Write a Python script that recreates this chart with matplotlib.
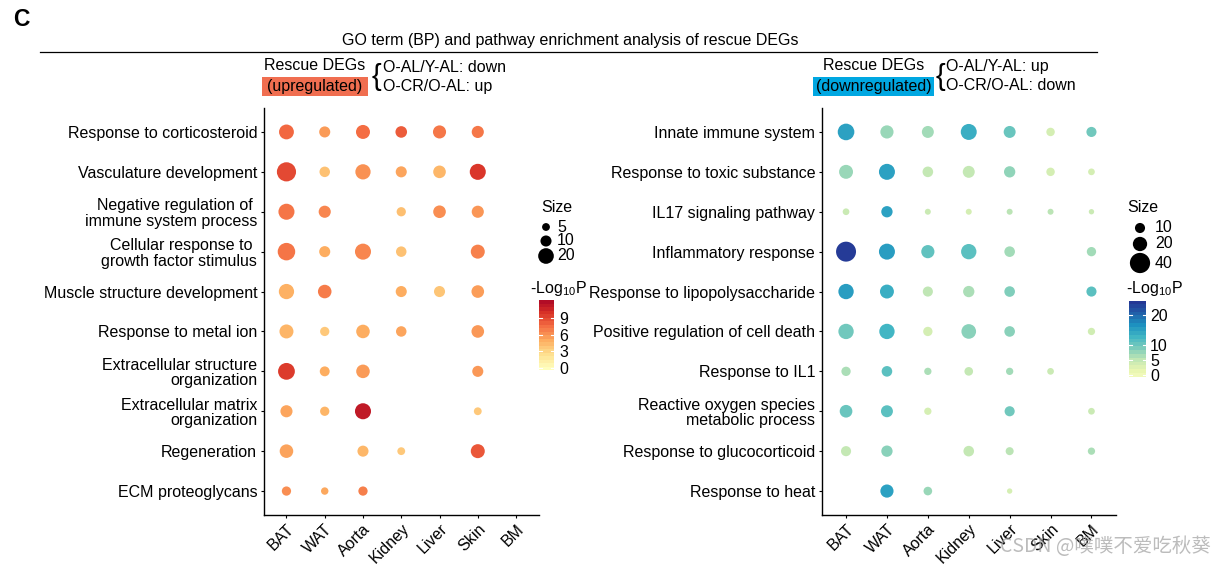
import numpy as np
import matplotlib
matplotlib.use('Agg')
import matplotlib.pyplot as plt
from matplotlib.colors import LinearSegmentedColormap, Normalize
from matplotlib.patches import Rectangle

plt.rcParams['font.family'] = ['Liberation Sans', 'DejaVu Sans']
plt.rcParams['mathtext.fontset'] = 'custom'
plt.rcParams['mathtext.rm'] = 'Liberation Sans'
plt.rcParams['mathtext.it'] = 'Liberation Sans:italic'

nan = np.nan
tissues = ['BAT', 'WAT', 'Aorta', 'Kidney', 'Liver', 'Skin', 'BM']

# upregulated rescue DEGs
up_terms = ['Response to corticosteroid', 'Vasculature development',
            'Negative regulation of \nimmune system process',
            'Cellular response to \ngrowth factor stimulus',
            'Muscle structure development', 'Response to metal ion',
            'Extracellular structure\norganization',
            'Extracellular matrix\norganization',
            'Regeneration', 'ECM proteoglycans']
up_size = [[18, 10, 16, 11, 14, 12, nan],
           [30, 9, 19, 10, 13, 21, nan],
           [21, 12, nan, 7, 13, 12, nan],
           [25, 10, 21, 9, nan, 16, nan],
           [19, 15, nan, 10, 10, 13, nan],
           [16, 7, 15, 9, nan, 13, nan],
           [23, 8, 15, nan, nan, 10, nan],
           [12, 7, 21, nan, nan, 5, nan],
           [15, nan, 10, 5, nan, 16, nan],
           [7, 4.5, 7, nan, nan, nan, nan]]
up_logp = [[7.8, 5.7, 7.6, 8.3, 7.2, 7.2, nan],
           [9.2, 4.0, 6.2, 5.3, 4.5, 10.0, nan],
           [7.3, 6.6, nan, 4.1, 6.3, 6.0, nan],
           [7.3, 5.0, 6.6, 4.0, nan, 6.8, nan],
           [4.8, 7.0, nan, 5.0, 3.8, 5.6, nan],
           [4.6, 3.6, 5.0, 5.3, nan, 5.9, nan],
           [9.8, 5.0, 5.8, nan, nan, 5.9, nan],
           [5.3, 4.6, 11.5, nan, nan, 3.6, nan],
           [5.4, nan, 4.5, 3.6, nan, 8.6, nan],
           [6.3, 5.2, 6.9, nan, nan, nan, nan]]

# downregulated rescue DEGs
down_terms = ['Innate immune system', 'Response to toxic substance',
              'IL17 signaling pathway', 'Inflammatory response',
              'Response to lipopolysaccharide',
              'Positive regulation of cell death', 'Response to IL1',
              'Reactive oxygen species\nmetabolic process',
              'Response to glucocorticoid', 'Response to heat']
down_size = [[27, 17, 14, 25, 14, 7, 10],
             [19, 25, 11, 14, 12.5, 7, 4.4],
             [4.4, 12.5, 3.5, 3.5, 3.5, 3.5, 2.8],
             [39, 25, 17, 23, 11, nan, 8.5],
             [23, 19, 10, 12.5, 11, nan, 10],
             [23, 23, 8.5, 21, 11, nan, 5.2],
             [8.5, 11, 5.2, 7.3, 5.2, 4.4, nan],
             [15.7, 14, 5.2, nan, 10, nan, 4.4],
             [10, 12.5, nan, 11, 6.3, nan, 5.2],
             [nan, 17, 7.3, nan, 2.8, nan, nan]]
down_logp = [[15, 7, 6.5, 13.5, 10, 3, 9.5],
             [7, 15, 4.5, 4.5, 7.5, 3, 3],
             [4, 15, 4, 3, 5, 5, 4],
             [24.5, 15.5, 10.5, 11, 6.5, nan, 6.5],
             [15.5, 13.5, 4.8, 6, 8.5, nan, 11],
             [9.5, 12.5, 3, 8, 8, nan, 3.3],
             [6, 11, 6, 4.5, 6.5, 4, nan],
             [10, 11, 2.8, nan, 9.5, nan, 4],
             [4.5, 8, nan, 4.5, 5, nan, 6],
             [nan, 15, 7, nan, 2.8, nan, nan]]

up_legend_sizes = [5, 10, 20]
down_legend_sizes = [10, 20, 40]
up_ticks = [0, 3, 6, 9]
down_ticks = [0, 5, 10, 20]

cmap_up = LinearSegmentedColormap.from_list('up', plt.cm.RdYlBu_r(np.linspace(0.5, 0.97, 256)))
cmap_dn = LinearSegmentedColormap.from_list('dn', plt.cm.YlGnBu(np.linspace(0.1, 0.86, 256)))
norm_up = Normalize(-0.35, 12.2)
norm_dn = Normalize(-0.7, 24.7)
k_up = 6.35   # points^2 per size unit
k_dn = 5.3

W, H = 1226, 566
fig = plt.figure(figsize=(W / 100, H / 100), dpi=100)


def px_axes(x0, y0, x1, y1):
    return fig.add_axes([x0 / W, 1 - y1 / H, (x1 - x0) / W, (y1 - y0) / H])


def ftext(x, y, s, **kw):
    kw.setdefault('fontsize', 11.5)
    return fig.text(x / W, 1 - y / H, s, **kw)


ov = fig.add_axes([0, 0, 1, 1])
ov.set_xlim(0, W)
ov.set_ylim(H, 0)
ov.axis('off')


def dot_panel(ax, terms, size, logp, cmap, norm, k):
    size = np.array(size, dtype=float)
    logp = np.array(logp, dtype=float)
    yy, xx = np.indices(size.shape)
    m = ~np.isnan(size)
    ax.scatter(xx[m], yy[m], s=k * size[m], c=logp[m], cmap=cmap, norm=norm,
               linewidths=0, zorder=3)
    ax.set_xlim(-0.6, 6.6)
    ax.set_ylim(len(terms) - 0.4, -0.6)
    ax.set_xticks(range(len(tissues)))
    ax.set_xticklabels(tissues, rotation=45, ha='right', va='top',
                       rotation_mode='anchor', fontsize=11.5)
    ax.set_yticks(range(len(terms)))
    ax.set_yticklabels(terms, fontsize=11.5, linespacing=1.05)
    for sp in ['top', 'right']:
        ax.spines[sp].set_visible(False)
    for sp in ['left', 'bottom']:
        ax.spines[sp].set_linewidth(1.0)
    ax.tick_params(length=2.5, width=0.8, pad=2, colors='black')
    ax.set_facecolor('none')


def colorbar(x0, y0, x1, y1, cmap, norm, ticks, pad):
    cax = px_axes(x0, y0, x1, y1)
    grad = np.linspace(norm.vmin, norm.vmax, 20)[:, None]
    cax.imshow(grad, cmap=cmap, norm=norm, origin='lower', aspect='auto',
               extent=[0, 1, norm.vmin, norm.vmax])
    for t in ticks:
        cax.plot([0, 0.2], [t, t], color='white', lw=0.8)
        cax.plot([0.8, 1], [t, t], color='white', lw=0.8)
    cax.set_xlim(0, 1)
    cax.set_ylim(norm.vmin, norm.vmax)
    cax.set_xticks([])
    cax.yaxis.tick_right()
    cax.set_yticks(ticks)
    cax.set_yticklabels([str(t) for t in ticks], fontsize=11.5)
    cax.tick_params(length=0, pad=pad)
    for sp in cax.spines.values():
        sp.set_visible(False)


ax_up = px_axes(263.5, 108, 539, 515)
dot_panel(ax_up, up_terms, up_size, up_logp, cmap_up, norm_up, k_up)
ax_dn = px_axes(821.5, 108, 1116, 515)
dot_panel(ax_dn, down_terms, down_size, down_logp, cmap_dn, norm_dn, k_dn)

# header
ftext(13, 19, 'C', fontsize=16.5, fontweight='bold', va='center')
ftext(570, 41, 'GO term (BP) and pathway enrichment analysis of rescue DEGs',
      ha='center', va='center')
ov.plot([40, 1097], [52, 52], color='black', lw=0.9)

ftext(315, 66, 'Rescue DEGs', ha='center', va='center')
ov.add_patch(Rectangle((262, 77), 106, 19, color='#F06E50', lw=0))
ftext(315, 86, '(upregulated)', ha='center', va='center')
ftext(376, 77, '{', fontsize=21, ha='center', va='center')
ftext(383, 67, 'O-AL/Y-AL: down', va='center')
ftext(383, 86, 'O-CR/O-AL: up', va='center')

ftext(874, 66, 'Rescue DEGs', ha='center', va='center')
ov.add_patch(Rectangle((813, 77), 121, 19, color='#00A7E1', lw=0))
ftext(874, 86, '(downregulated)', ha='center', va='center')
ftext(940, 77, '{', fontsize=21, ha='center', va='center')
ftext(946, 67, 'O-AL/Y-AL: up', va='center')
ftext(946, 86, 'O-CR/O-AL: down', va='center')

# size legends
ftext(541, 208, 'Size', va='center')
ys_up = [227, 241, 256]
ov.scatter([546] * 3, ys_up, s=k_up * np.array(up_legend_sizes), c='black', lw=0)
for y, v in zip(ys_up, up_legend_sizes):
    ftext(557, y, str(v), va='center')

ftext(1127, 208, 'Size', va='center')
ys_dn = [228, 244, 263]
ov.scatter([1140] * 3, ys_dn, s=k_dn * np.array(down_legend_sizes), c='black', lw=0)
for y, v in zip(ys_dn, down_legend_sizes):
    ftext(1155, y, str(v), va='center')

# colour legends
ftext(530, 289, r'-Log$_{\mathregular{10}}$P', va='center')
colorbar(539, 300, 554, 370, cmap_up, norm_up, up_ticks, 4)
ftext(1126, 289, r'-Log$_{\mathregular{10}}$P', va='center')
colorbar(1129, 301, 1146, 377, cmap_dn, norm_dn, down_ticks, 3)

ftext(1000, 547, 'CSDN @噗噗不爱吃秋葵', fontsize=14, va='center', color='#a0a0a0',
      alpha=0.7, family=['Noto Sans CJK SC', 'DejaVu Sans'])

fig.savefig('out.png', dpi=100)
